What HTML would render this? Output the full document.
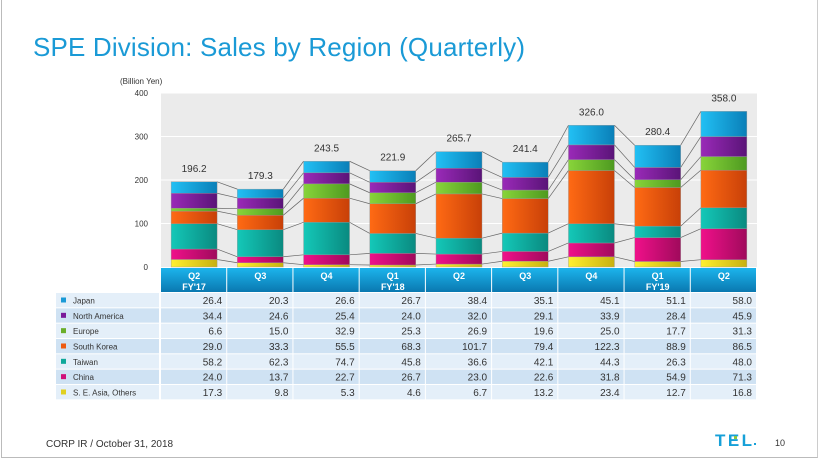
<!DOCTYPE html>
<html><head><meta charset="utf-8"><style>
body{margin:0;width:821px;height:460px;overflow:hidden;background:#fff;font-family:"Liberation Sans",sans-serif}
#frame{position:absolute;left:1px;top:0;width:817px;height:458px;border-left:1px solid #bbb;border-right:1px solid #ccc;border-bottom:1px solid #bbb;box-sizing:border-box}
</style></head><body>
<div id="frame"></div>
<svg id="c" width="821" height="460" style="position:absolute;left:0;top:0">
<defs id="defs"></defs>
<text x="33" y="56" font-size="26" fill="#1a9ad6" textLength="492" font-family="Liberation Sans, sans-serif">SPE Division: Sales by Region (Quarterly)</text>
<text x="120" y="84" font-size="8" fill="#333">(Billion Yen)</text>
<text x="46" y="447" font-size="10" fill="#333">CORP IR / October 31, 2018</text>
<g>
<text x="715" y="446" font-size="17" font-weight="bold" fill="#16a0d8" textLength="37">TEL</text>
<rect x="734" y="436" width="3" height="3" fill="#8cc63f"/>
<rect x="754" y="443" width="2" height="2" fill="#16a0d8"/>
</g>
<text x="775" y="446" font-size="9" fill="#333">10</text>
</svg>
<script>
const quarters=["Q2","Q3","Q4","Q1","Q2","Q3","Q4","Q1","Q2"];
const years=["FY'17","","","FY'18","","","","FY'19",""];
const regions=["Japan","North America","Europe","South Korea","Taiwan","China","S. E. Asia, Others"];
const japan=[26.4,20.3,26.6,26.7,38.4,35.1,45.1,51.1,58.0];
const northAmerica=[34.4,24.6,25.4,24.0,32.0,29.1,33.9,28.4,45.9];
const europe=[6.6,15.0,32.9,25.3,26.9,19.6,25.0,17.7,31.3];
const southKorea=[29.0,33.3,55.5,68.3,101.7,79.4,122.3,88.9,86.5];
const taiwan=[58.2,62.3,74.7,45.8,36.6,42.1,44.3,26.3,48.0];
const china=[24.0,13.7,22.7,26.7,23.0,22.6,31.8,54.9,71.3];
const seAsia=[17.3,9.8,5.3,4.6,6.7,13.2,23.4,12.7,16.8];
const totals=["196.2","179.3","243.5","221.9","265.7","241.4","326.0","280.4","358.0"];
const yTicks=[0,100,200,300,400];

const series=[japan,northAmerica,europe,southKorea,taiwan,china,seAsia];
const colors=[["#22c0f4","#0a7fb8"],["#9a2ab8","#5a1478"],["#88d43a","#4e9a20"],["#ff6a14","#c84008"],["#14c8b8","#0a8a80"],["#f0108a","#a00a5c"],["#fff030","#c8b010"]];
const keyCol=["#1a9ad6","#7a1a9a","#6aae2a","#ee5a10","#10a89a","#d0107a","#e0d020"];
const NS="http://www.w3.org/2000/svg";
const svg=document.getElementById('c'),defs=document.getElementById('defs');
const PL=161,PR=757,PT=93,PB=267,ymax=400;
const n=quarters.length,cw=(PR-PL)/n,bw=46;
const y=v=>PB-v/ymax*(PB-PT);
const xc=i=>PL+cw*(i+0.5);
function mk(t,a,p){const e=document.createElementNS(NS,t);for(const k in a)e.setAttribute(k,a[k]);(p||svg).appendChild(e);return e;}
colors.forEach((c,k)=>{const g=mk('linearGradient',{id:'g'+k,x1:0,x2:1,y1:0,y2:0},defs);mk('stop',{offset:0,'stop-color':c[0]},g);mk('stop',{offset:1,'stop-color':c[1]},g);});
const hg=mk('linearGradient',{id:'hg',x1:0,x2:0,y1:0,y2:1},defs);mk('stop',{offset:0,'stop-color':'#1cb4ec'},hg);mk('stop',{offset:1,'stop-color':'#0a78b0'},hg);
const bg=mk('rect',{x:PL,y:PT,width:PR-PL,height:PB-PT,fill:'#ebebeb'});


yTicks.forEach(t=>{
 if(t>0){const gl=mk('line',{x1:PL,x2:PR,y1:y(t),y2:y(t),stroke:'#fff','stroke-width':1});
 
 }
 const tx=mk('text',{x:PL-13,y:y(t)+3,'font-size':8,'text-anchor':'end',fill:'#333'});tx.textContent=t;
 
 
});
const order=[6,5,4,3,2,1,0];
const cum=[];
for(let i=0;i<n;i++){let s=0;cum[i]={};order.forEach(k=>{cum[i][k]=[s,s+series[k][i]];s+=series[k][i];});}
for(let i=0;i<n-1;i++){order.forEach(k=>{
 const ln=mk('line',{x1:xc(i)+bw/2,x2:xc(i+1)-bw/2,y1:y(cum[i][k][1]),y2:y(cum[i+1][k][1]),stroke:'#666','stroke-width':0.7});
 
 
});}
for(let i=0;i<n;i++){
 order.forEach(k=>{
  const [a,b]=cum[i][k];
  const r=mk('rect',{x:xc(i)-bw/2,y:y(b),width:bw,height:y(a)-y(b),fill:'url(#g'+k+')',stroke:'#999','stroke-width':0.4});
  
  
 });
 const top=cum[i][0][1];
 const tl=mk('text',{x:xc(i),y:y(top)-10,'font-size':10,'text-anchor':'middle',fill:'#333'});tl.textContent=totals[i];
 
 
 const h=mk('rect',{x:PL+cw*i,y:268,width:cw-1,height:24,fill:'url(#hg)'});
 
 
 const q=mk('text',{x:xc(i),y:279,'font-size':9,'font-weight':'bold','text-anchor':'middle',fill:'#fff'});q.textContent=quarters[i];
 
 
 if(years[i]){const yy=mk('text',{x:xc(i),y:290,'font-size':9,'font-weight':'bold','text-anchor':'middle',fill:'#fff'});yy.textContent=years[i];
 
 }
}
const RT=293,RH=15.33;
regions.forEach((nm,r)=>{
 const fill=r%2?'#cfe2f3':'#e4eff9',yy=RT+RH*r;
 const lr=mk('rect',{x:56,y:yy,width:103,height:RH-1,fill});
 
 
 mk('rect',{x:61,y:yy+4.5,width:5,height:5,fill:keyCol[r]});
 const t=mk('text',{x:73,y:yy+10.5,'font-size':8,fill:'#333'});t.textContent=nm;
 
 
 for(let i=0;i<n;i++){
  const c=mk('rect',{x:PL+cw*i,y:yy,width:cw-1,height:RH-1,fill});
  
  
  const v=mk('text',{x:PL+cw*(i+1)-5,y:yy+11,'font-size':10,'text-anchor':'end',fill:'#333'});v.textContent=series[r][i].toFixed(1);
  
  
 }
});
</script>
</body></html>
